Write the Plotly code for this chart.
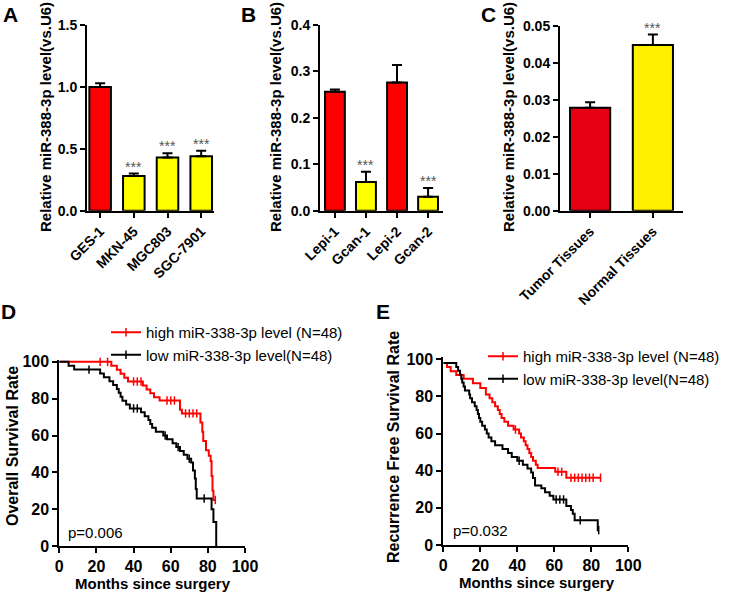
import plotly.graph_objects as go

# ---- data ----
a_cats = ["GES-1", "MKN-45", "MGC803", "SGC-7901"]
a_vals = [1.0, 0.28, 0.43, 0.44]
a_err = [0.03, 0.02, 0.035, 0.045]
a_cols = ["#ff0000", "#ffff00", "#ffff00", "#ffff00"]
a_star = [False, True, True, True]

b_cats = ["Lepi-1", "Gcan-1", "Lepi-2", "Gcan-2"]
b_vals = [0.256, 0.062, 0.276, 0.030]
b_err = [0.005, 0.022, 0.038, 0.019]
b_cols = ["#ff0000", "#ffff00", "#ff0000", "#ffff00"]
b_star = [False, True, False, True]

c_cats = ["Tumor Tissues", "Normal Tissues"]
c_vals = [0.0278, 0.0448]
c_err = [0.0015, 0.0028]
c_cols = ["#e60012", "#fff100"]
c_star = [False, True]

# overall survival (D)
d_high_t = [0, 28, 31, 33, 35, 37, 45, 47, 49, 51, 54, 65, 66, 76, 77, 77.5, 79, 80.5, 81.5, 82, 82.5, 83]
d_high_s = [100, 97.9, 95.7, 93.6, 91.4, 89.3, 87.1, 85.0, 82.9, 80.8, 79.0, 74.0, 72.0, 67.0, 62.0, 57.0, 52.0, 49.0, 46.0, 38.0, 30.0, 25.0]
d_high_cens = [22, 26, 40, 42, 44, 58, 60, 62, 68, 70, 72, 74, 84]
d_high_end = 84

d_low_t = [0, 5, 8, 22, 24, 27, 29, 31, 32, 33, 34, 36, 38, 44, 46, 48, 49, 50, 52, 56, 58, 61, 63, 65, 67, 69, 71, 72, 73, 73.5, 74, 82, 83, 84.5]
d_low_s = [100, 97.9, 95.8, 93.7, 91.6, 89.5, 87.4, 85.3, 83.2, 81.0, 78.9, 76.8, 74.7, 72.6, 70.5, 68.4, 66.3, 64.2, 62.1, 60.0, 57.9, 55.8, 53.7, 51.6, 49.5, 47.4, 45.3, 41.0, 36.6, 31.0, 25.8, 20.0, 13.0, 0.0]
d_low_cens = [16, 40, 42, 57, 64, 70, 78]
d_low_end = 84.5

# recurrence free survival (E)
e_high_t = [0, 2, 4, 7, 11, 16, 20, 23, 25, 26.5, 28, 29.5, 30.5, 31.5, 33, 35, 38, 41, 42, 43.5, 44.5, 45.5, 46.5, 47.5, 48.5, 50, 51, 60.5, 66.5]
e_high_s = [97.9, 95.8, 93.5, 91.5, 89.5, 87.0, 84.5, 81.0, 78.9, 76.8, 74.7, 72.6, 70.5, 68.4, 66.3, 64.2, 62.1, 60.0, 57.9, 55.8, 53.7, 51.6, 49.5, 47.4, 45.3, 43.2, 41.5, 39.4, 36.2]
e_high_cens = [39, 62, 64, 69, 71, 73, 75, 77, 79, 81, 85]
e_high_end = 85

e_low_t = [0, 7, 8, 9, 9.7, 10.2, 11, 11.7, 14, 14.5, 15.5, 17, 18, 18.7, 19.3, 20, 21, 22.5, 23.5, 24.5, 26, 28, 32, 35, 37, 40, 43, 45.5, 47.5, 48.5, 49.6, 53, 55, 57.5, 59.5, 66.5, 69, 70, 71, 83.5]
e_low_s = [97.9, 95.8, 93.7, 91.6, 89.5, 87.4, 85.3, 83.2, 81.0, 78.9, 76.8, 74.7, 72.6, 70.5, 68.4, 66.3, 64.2, 62.1, 60.0, 57.9, 55.8, 53.7, 51.6, 49.5, 47.4, 45.3, 43.2, 41.1, 39.0, 36.0, 32.0, 30.5, 28.4, 26.5, 24.5, 21.0, 18.9, 16.8, 13.3, 8.0]
e_low_cens = [41, 61, 63, 65, 74, 84]
e_low_end = 84

FONT = "Liberation Sans, Arial, sans-serif"
W, H = 733, 592


def px(x):
    return x / W


def py(y):
    return 1 - y / H


fig = go.Figure()


def note(x, y, text, size, angle=0, bold=True, **kw):
    # paper-pixel placed text, centred on (x, y)
    fig.add_annotation(x=px(x), y=py(y), xref="paper", yref="paper",
                       text="<b>%s</b>" % text if bold else text, textangle=angle, showarrow=False,
                       xanchor="center", yanchor="middle",
                       font=dict(size=size, family=FONT, color="black"), **kw)


def bar_panel(n, cats, vals, err, cols, stars, dom_x, dom_y, rng, yr, dtick, fmt):
    xa, ya = "x%d" % n, "y%d" % n
    fig.add_trace(go.Bar(
        x=list(range(len(cats))), y=vals, marker=dict(color=cols, line=dict(color="black", width=2)),
        width=0.64, error_y=dict(type="data", array=err, arrayminus=[0] * len(err), symmetric=False,
                                 color="black", thickness=2, width=5),
        xaxis=xa, yaxis=ya, showlegend=False))
    for i, s in enumerate(stars):
        if s:
            fig.add_annotation(x=i, y=vals[i] + err[i], xref=xa, yref=ya, text="***", showarrow=False,
                               xanchor="center", yanchor="bottom", yshift=-3,
                               font=dict(size=14, color="#555", family=FONT))
    common = dict(showline=True, linecolor="black", linewidth=2, ticks="outside", tickwidth=2,
                  ticklen=5, tickcolor="black", showgrid=False, zeroline=False, automargin=False,
                  tickfont=dict(size=14, family=FONT, color="black"))
    fig.update_layout(**{
        "xaxis%d" % n: dict(domain=dom_x, anchor=ya, range=rng, tickmode="array",
                            tickvals=list(range(len(cats))), ticktext=["<b>%s</b>" % c for c in cats],
                            tickangle=-45, **common),
        "yaxis%d" % n: dict(domain=dom_y, anchor=xa, range=yr, dtick=dtick, tickformat=fmt,
                            tickprefix="<b>", ticksuffix="</b>", **common),
    })


bar_panel(1, a_cats, a_vals, a_err, a_cols, a_star, [px(87), px(214)], [py(210.7), py(25)],
          [-0.39, 3.38], [0, 1.5], 0.5, ".1f")
bar_panel(2, b_cats, b_vals, b_err, b_cols, b_star, [px(320), px(443)], [py(210.7), py(25)],
          [-0.48, 3.48], [0, 0.4], 0.1, ".1f")
bar_panel(3, c_cats, c_vals, c_err, c_cols, c_star, [px(560), px(683)], [py(210.7), py(25.7)],
          [-0.48, 1.48], [0, 0.05], 0.01, ".2f")


def km_trace(n, t, s, cens, end, color, name, legend):
    pts = [(tt, ss, False) for tt, ss in zip(t, s)]
    for c in cens:
        lvl = [ss for tt, ss in zip(t, s) if tt <= c][-1]
        pts.append((c, lvl, True))
    if end not in cens:
        pts.append((end, s[-1], False))
    pts.sort(key=lambda p: p[0])
    xs = [p[0] for p in pts]
    ys = [p[1] for p in pts]
    sel = [i for i, p in enumerate(pts) if p[2]]
    fig.add_trace(go.Scatter(
        x=xs, y=ys, mode="lines+markers", line=dict(color=color, width=2, shape="hv"),
        marker=dict(symbol="line-ns", size=6, line=dict(color=color, width=1.5)),
        selectedpoints=sel, selected=dict(marker=dict(opacity=1)),
        unselected=dict(marker=dict(opacity=0)), name=name, legend=legend,
        xaxis="x%d" % n, yaxis="y%d" % n, cliponaxis=False))


def km_axes(n, dom_x, dom_y):
    common = dict(showline=True, linecolor="black", linewidth=2, ticks="outside", tickwidth=2,
                  ticklen=5, tickcolor="black", showgrid=False, zeroline=False, automargin=False,
                  tickprefix="<b>", ticksuffix="</b>",
                  tickfont=dict(size=16, family=FONT, color="black"))
    fig.update_layout(**{
        "xaxis%d" % n: dict(domain=dom_x, anchor="y%d" % n, range=[0, 100], dtick=20, **common),
        "yaxis%d" % n: dict(domain=dom_y, anchor="x%d" % n, range=[0, 101], dtick=20, **common),
    })


km_trace(4, d_high_t, d_high_s, d_high_cens, d_high_end, "#ff0000", "high miR-338-3p level (N=48)", "legend")
km_trace(4, d_low_t, d_low_s, d_low_cens, d_low_end, "black", "low miR-338-3p level(N=48)", "legend")
km_axes(4, [px(59.3), px(245)], [py(546), py(360)])

km_trace(5, e_high_t, e_high_s, e_high_cens, e_high_end, "#ff0000", "high miR-338-3p level (N=48)", "legend2")
km_trace(5, e_low_t, e_low_s, e_low_cens, e_low_end, "black", "low miR-338-3p level(N=48)", "legend2")
km_axes(5, [px(443.3), px(628.3)], [py(545), py(357.3)])

leg = dict(bgcolor="rgba(0,0,0,0)", borderwidth=0, font=dict(size=15, family=FONT, color="black"),
           xanchor="left", yanchor="top", tracegroupgap=0, itemclick=False)
fig.update_layout(
    legend=dict(x=px(106), y=py(316), **leg),
    legend2=dict(x=px(483), y=py(340), **leg),
)

# axis titles
for xc in [46, 276, 509]:
    note(xc, 117, "Relative miR-388-3p level(vs.U6)", 15, angle=-90)
note(12, 446, "Overall Survival Rate", 16, angle=-90)
note(393, 447, "Recurrence Free Survival Rate", 16, angle=-90)
note(152.5, 583, "Months since surgery", 15)
note(536.5, 582, "Months since surgery", 15)

# p values
note(95, 532, "p=0.006", 15, bold=False)
note(480, 530, "p=0.032", 15, bold=False)

# panel letters
for letter, xc, yc in [("A", 10, 15), ("B", 248, 15), ("C", 488, 15), ("D", 8, 312), ("E", 383, 312)]:
    note(xc, yc, letter, 21)

fig.update_layout(width=W, height=H, margin=dict(l=0, r=0, t=0, b=0), plot_bgcolor="white",
                  paper_bgcolor="white", bargap=0.3)

fig.write_html("out.html", config={"displayModeBar": False},
               post_script="document.body.style.margin = '0px';")
